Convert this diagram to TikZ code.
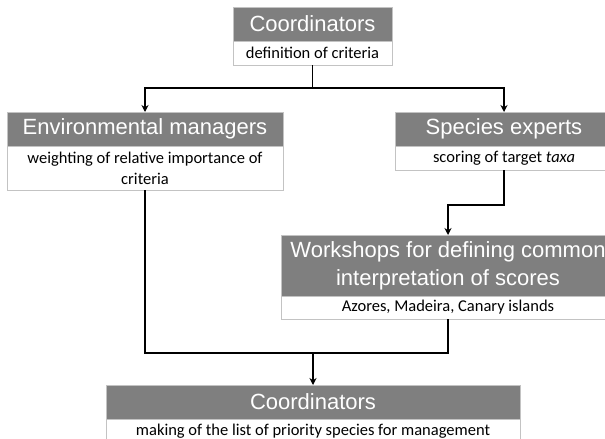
\documentclass[tikz,border=0pt]{standalone}
\usepackage{fontspec}
\usepackage{tikz}
\usetikzlibrary{arrows.meta,positioning}
\newfontfamily\headfont{Liberation Sans}
\newfontfamily\subfont{Carlito}
\definecolor{headgray}{RGB}{127,127,127}
\definecolor{boxline}{RGB}{195,195,195}

\begin{document}
\begin{tikzpicture}[
x=1pt,y=1pt,
head/.style={draw=boxline,fill=headgray,text=white,align=center,inner sep=2pt,outer sep=0pt,minimum height=34pt,font=\headfont\fontsize{22}{28}\selectfont},
sub/.style={draw=boxline,fill=white,align=center,inner sep=2pt,outer sep=0pt,minimum height=24pt,font=\subfont\fontsize{16.5}{21}\selectfont},
flow/.style={-{Stealth[length=7pt,width=7pt]},line width=1.5pt},
link/.style={line width=1.5pt}]
\clip (0,0) rectangle (605,-439);
\fill[white] (0,0) rectangle (605,-439);
\node[head,minimum width=159pt,anchor=north] (crd) at (312.5,-7) {Coordinators};
\node[sub,minimum width=159pt,below=0pt of crd] (crdsub) {definition of criteria};
\node[head,minimum width=276pt,anchor=north] (env) at (145,-112) {Environmental managers};
\node[sub,minimum width=276pt,minimum height=44pt,below=0pt of env] (envsub) {weighting of relative importance of\\criteria};
\node[head,minimum width=218pt,anchor=north] (spec) at (504,-112) {Species experts};
\node[sub,minimum width=218pt,below=0pt of spec] (specsub) {scoring of target \textit{taxa}};
\node[head,minimum width=334pt,minimum height=61pt,anchor=north] (work) at (448,-235) {Workshops for defining common\\interpretation of scores};
\node[sub,minimum width=334pt,minimum height=23pt,below=0pt of work] (worksub) {Azores, Madeira, Canary islands};
\node[head,minimum width=414pt,anchor=north] (prio) at (313,-385) {Coordinators};
\node[sub,minimum width=414pt,below=0pt of prio] (priosub) {making of the list of priority species for management};
\draw[link] (crdsub.south) -- ++(0,-23) coordinate (split);
\draw[flow] (split) -| (env.north);
\draw[flow] (split) -| (spec.north);
\draw[flow] (specsub.south) -- ++(0,-35) -| (work.north);
\coordinate (merge) at (313,-353);
\draw[link] (envsub.south) |- (merge) -| (worksub.south);
\draw[flow] (merge) -- (prio.north);
\end{tikzpicture}
\end{document}
